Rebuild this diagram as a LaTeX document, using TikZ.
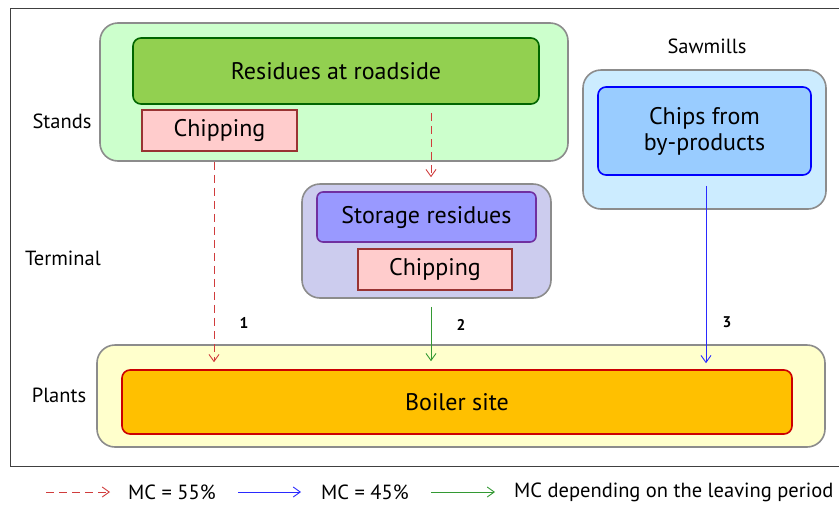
\documentclass[tikz,border=0pt]{standalone}
\usepackage{fontspec}
\setmainfont{PT Sans}
\usetikzlibrary{arrows.meta}

\definecolor{framegray}{HTML}{8C8C8C}
\definecolor{standsfill}{HTML}{CCFFCC}
\definecolor{roadfill}{HTML}{92D050}
\definecolor{roaddraw}{HTML}{006600}
\definecolor{chipfill}{HTML}{FFCCCC}
\definecolor{chipdraw}{HTML}{993333}
\definecolor{sawfill}{HTML}{CCECFF}
\definecolor{chipsfill}{HTML}{99CCFF}
\definecolor{chipsdraw}{HTML}{0000FF}
\definecolor{termfill}{HTML}{CCCCEE}
\definecolor{storefill}{HTML}{9999FF}
\definecolor{storedraw}{HTML}{7030A0}
\definecolor{plantfill}{HTML}{FFFFCC}
\definecolor{boilfill}{HTML}{FFC000}
\definecolor{boildraw}{HTML}{CC0000}
\definecolor{flowred}{HTML}{D03C3C}
\definecolor{flowblue}{HTML}{2A2AFF}
\definecolor{flowgreen}{HTML}{339933}

\tikzset{
  box/.style={inner sep=0pt, line width=1.6pt},
  group/.style={box, draw=framegray, rounded corners=18pt},
  inner/.style={box, rounded corners=8pt, font=\fontsize{24}{26}\selectfont},
  chipbox/.style={box, draw=chipdraw, fill=chipfill, font=\fontsize{24}{26}\selectfont},
  side/.style={font=\fontsize{20.5}{24}\selectfont},
  num/.style={font=\bfseries\fontsize{15.5}{18}\selectfont},
  tip/.style={-{Straight Barb[length=7pt,width=10pt]}},
  redflow/.style={tip, flowred, line width=0.9pt, dash pattern=on 8pt off 5pt},
  blueflow/.style={tip, flowblue, line width=0.9pt},
  greenflow/.style={tip, flowgreen, line width=0.9pt},
  legend/.style={font=\fontsize{20.5}{24}\selectfont, anchor=west, inner sep=0pt},
}

\begin{document}
\begin{tikzpicture}[x=1pt, y=-1pt]
\useasboundingbox (0,0) rectangle (839,504);
\fill[white] (0,0) rectangle (839,504);

% outer frame
\draw[line width=1pt, black!75] (10,8) -- (850,8) (10,8) -- (10,466) -- (850,466);

% group boxes
\node[group, fill=standsfill, minimum width=468pt, minimum height=138pt] (stands) at (334,92) {};
\node[group, fill=sawfill, minimum width=243pt, minimum height=139pt] (sawmills) at (704.5,139.5) {};
\node[group, fill=termfill, minimum width=249pt, minimum height=114pt] (terminal) at (426.5,241) {};
\node[group, fill=plantfill, minimum width=728pt, minimum height=102pt] (plants) at (461,396) {};

% process boxes
\node[inner, draw=roaddraw, fill=roadfill, minimum width=406pt, minimum height=66pt] (road) at (336,71) {Residues at roadside};
\node[chipbox, minimum width=155pt, minimum height=41pt] (chip1) at (219.5,130.5) {Chipping};
\node[inner, draw=chipsdraw, fill=chipsfill, minimum width=213pt, minimum height=88pt, align=center] (chips) at (704.5,131) {Chips from\\by-products};
\node[inner, draw=storedraw, fill=storefill, rounded corners=6pt, minimum width=219pt, minimum height=50pt] (store) at (426.5,217) {Storage residues};
\node[chipbox, minimum width=154pt, minimum height=41pt] (chip2) at (435,269.5) {Chipping};
\node[inner, draw=boildraw, fill=boilfill, minimum width=670pt, minimum height=64pt] (boiler) at (457,402) {Boiler site};

% row labels
\node[side] (lstands) at (62,121) {Stands};
\node[side] (lterm) at (63,258) {Terminal};
\node[side] (lplants) at (59,395) {Plants};
\node[side] (lsaw) at (707,46) {Sawmills};

% flows
\coordinate (x1) at (214,0);
\coordinate (x2) at (431,0);
\coordinate (x3) at (706,0);
\draw[redflow, shorten >=7pt] (stands.south -| x1) -- (boiler.north -| x1);
\draw[redflow, shorten <=8pt, shorten >=6pt] (road.south -| x2) -- (terminal.north -| x2);
\draw[greenflow, shorten <=8pt, shorten >=8pt] (terminal.south -| x2) -- (boiler.north -| x2);
\draw[blueflow, shorten <=10pt, shorten >=6pt] (chips.south -| x3) -- (boiler.north -| x3);

\node[num] (n1) at (244,323) {1};
\node[num] (n2) at (461,325) {2};
\node[num] (n3) at (727,322) {3};

% legend
\coordinate (r0) at (46,492);  \coordinate (r1) at (110,492);
\coordinate (b0) at (238,492); \coordinate (b1) at (301,492);
\coordinate (g0) at (431,492); \coordinate (g1) at (495,492);
\draw[redflow] (r0) -- (r1);
\draw[blueflow] (b0) -- (b1);
\draw[greenflow] (g0) -- (g1);
\node[legend] (t55) at (128,492) {MC = 55\%};
\node[legend] (t45) at (321,492) {MC = 45\%};
\node[legend] (tmc) at (514,492) {MC depending on the leaving period};
\end{tikzpicture}
\end{document}
